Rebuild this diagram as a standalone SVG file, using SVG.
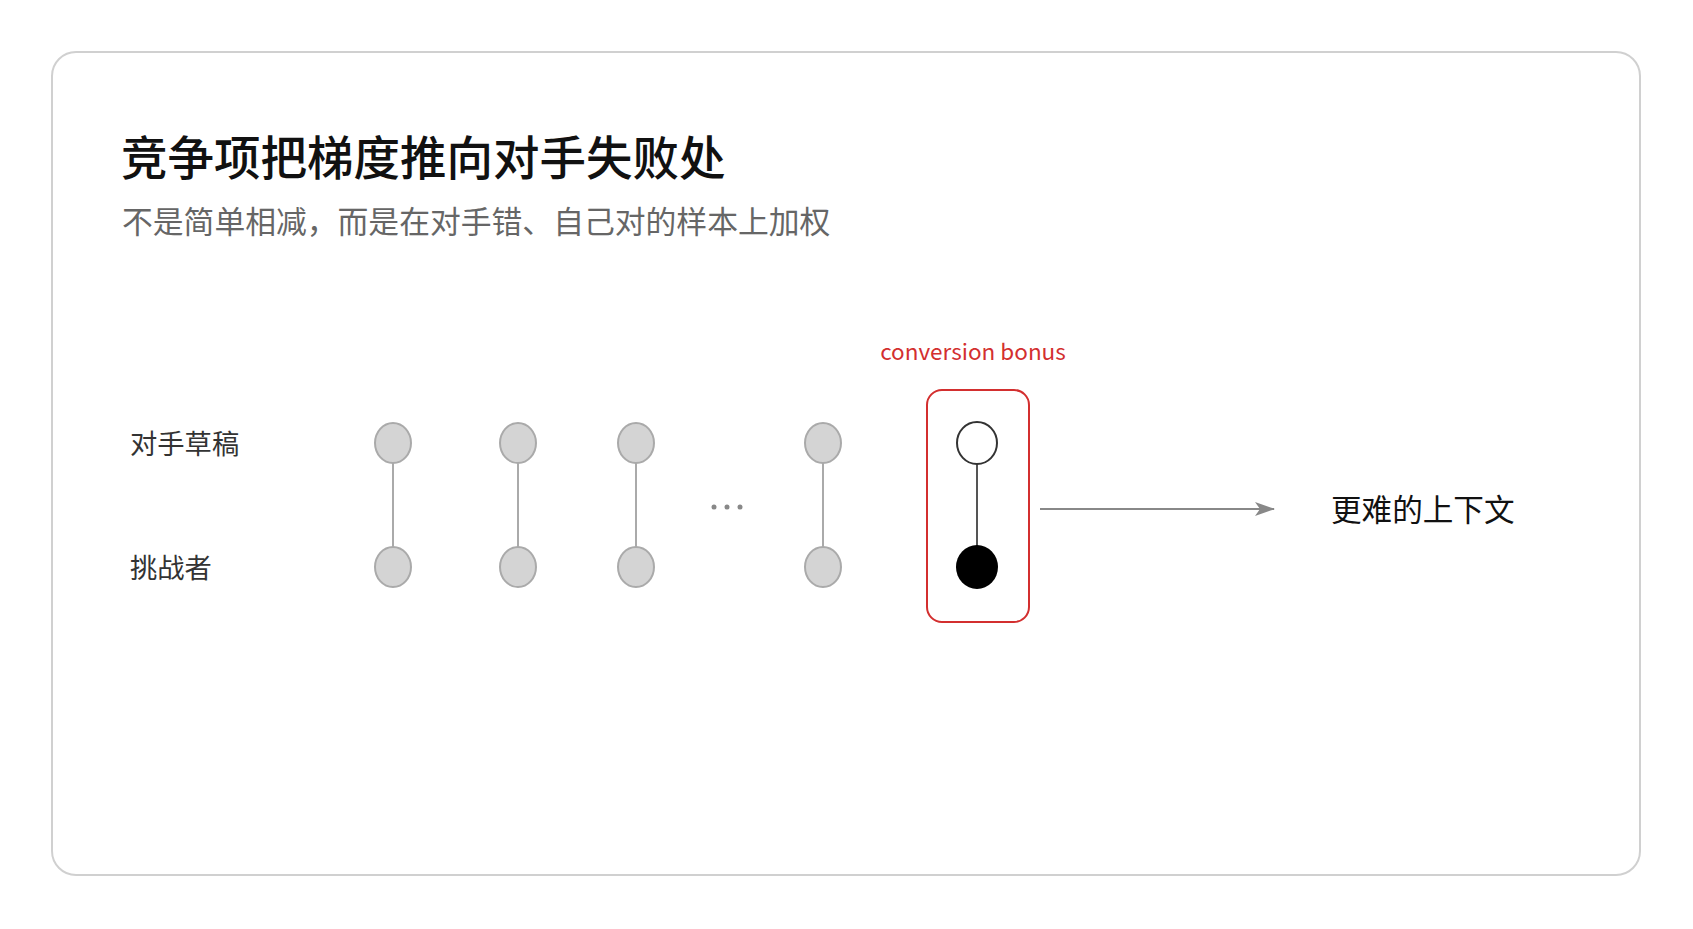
<svg xmlns="http://www.w3.org/2000/svg" width="1693" height="929" viewBox="0 0 1693 929">
<defs>
<style>
text{font-family:"Noto Sans CJK SC","Noto Sans",sans-serif}
.g{fill:#d4d4d4;stroke:#aaa;stroke-width:2}
.l{stroke:#aaa;stroke-width:2}
.lab{font-size:27.3px;fill:#333}
</style>
<marker id="ah" markerWidth="20" markerHeight="14" refX="19" refY="7" orient="auto" markerUnits="userSpaceOnUse"><path d="M0,0 L20,7 L0,14 L5,7 Z" fill="#888"/></marker>
</defs>
<rect width="1693" height="929" fill="#fff"/>
<rect x="52" y="52" width="1588" height="823" rx="24" fill="#fff" stroke="#d0d0d0" stroke-width="2"/>
<text x="121" y="175" font-size="46.5" font-weight="500" fill="#111">竞争项把梯度推向对手失败处</text>
<text x="122" y="233" font-size="30.8" fill="#666">不是简单相减，而是在对手错、自己对的样本上加权</text>
<g id="labels">
<text class="lab" x="130" y="454">对手草稿</text>
<text class="lab" x="130" y="578">挑战者</text>
</g>
<g id="connectors">
<line class="l" x1="393" y1="463" x2="393" y2="547"/>
<line class="l" x1="518" y1="463" x2="518" y2="547"/>
<line class="l" x1="636" y1="463" x2="636" y2="547"/>
<line class="l" x1="823" y1="463" x2="823" y2="547"/>
<line x1="977" y1="463" x2="977" y2="547" stroke="#555" stroke-width="2"/>
<line x1="1040" y1="509" x2="1274" y2="509" stroke="#888" stroke-width="2" marker-end="url(#ah)"/>
</g>
<g id="pair1"><ellipse class="g" cx="393" cy="443" rx="18" ry="20"/><ellipse class="g" cx="393" cy="567" rx="18" ry="20"/></g>
<g id="pair2"><ellipse class="g" cx="518" cy="443" rx="18" ry="20"/><ellipse class="g" cx="518" cy="567" rx="18" ry="20"/></g>
<g id="pair3"><ellipse class="g" cx="636" cy="443" rx="18" ry="20"/><ellipse class="g" cx="636" cy="567" rx="18" ry="20"/></g>
<g id="dots"><circle cx="714" cy="507" r="2.5" fill="#888"/><circle cx="727" cy="507" r="2.5" fill="#888"/><circle cx="740" cy="507" r="2.5" fill="#888"/></g>
<g id="pair4"><ellipse class="g" cx="823" cy="443" rx="18" ry="20"/><ellipse class="g" cx="823" cy="567" rx="18" ry="20"/></g>
<g id="bonus">
<rect x="927" y="390" width="102" height="232" rx="15" fill="none" stroke="#d32f2f" stroke-width="2"/>
<text x="973" y="360" font-size="22.5" fill="#d32f2f" text-anchor="middle">conversion bonus</text>
<ellipse cx="977" cy="443" rx="20" ry="21" fill="#fff" stroke="#333" stroke-width="2"/>
<ellipse cx="977" cy="567" rx="21" ry="22" fill="#000"/>
</g>
<g id="result"><text x="1331" y="521" font-size="30.6" fill="#111">更难的上下文</text></g>
</svg>
